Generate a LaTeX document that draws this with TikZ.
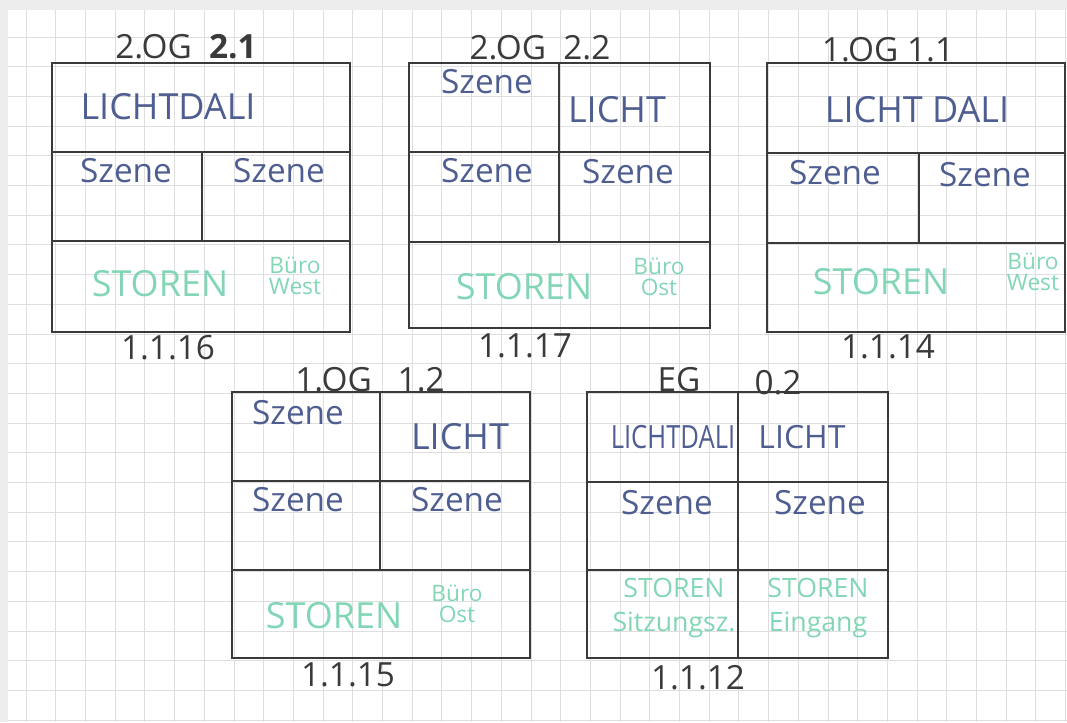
\documentclass[tikz,border=0pt]{standalone}
\usepackage{fontspec}
\usepackage{graphicx}
\setmainfont{Open Sans}
\definecolor{penblue}{HTML}{4F5E90}
\definecolor{pengreen}{HTML}{82D6B6}
\definecolor{pencil}{HTML}{3A3A3A}
\definecolor{gridgray}{HTML}{DEDEDE}
\definecolor{rimgray}{HTML}{EDEDED}
\tikzset{
  frame/.style={pencil, line width=1.4pt},
  gridline/.style={gridgray, line width=0.6pt},
  bluetext/.style={text=penblue, inner sep=0pt, font=\fontsize{25}{27}\selectfont},
  bigtext/.style={bluetext, font=\fontsize{27}{29}\selectfont},
  greentext/.style={text=pengreen, inner sep=0pt, font=\fontsize{27}{29}\selectfont},
  roomtext/.style={text=pengreen, inner sep=0pt, align=center, font=\fontsize{17}{16}\selectfont},
  egtext/.style={text=pengreen, inner sep=0pt, align=center, font=\fontsize{20}{25}\selectfont},
  tag/.style={text=pencil, inner sep=0pt, font=\fontsize{25}{27}\selectfont}
}

\begin{document}
\begin{tikzpicture}[x=0.75pt,y=-0.75pt]
\useasboundingbox (0,0) rectangle (1067,722);

% Grid paper
\foreach \gx in {0,...,35}
  \draw[gridline] ({26+29.7*\gx},0) -- ({26+29.7*\gx},722);
\foreach \gy in {0,...,24}
  \draw[gridline] (0,{7.2+29.7*\gy}) -- (1067,{7.2+29.7*\gy});
\fill[rimgray] (0,0) rectangle (1067,10);
\fill[rimgray] (0,0) rectangle (8,722);

% Panel 1: 2.OG 2.1
\begin{scope}[shift={(52,63)}]
  \draw[frame] (0,0) rectangle (298,269);
  \draw[frame] (0,89) -- (298,89);
  \draw[frame] (0,178) -- (298,178);
  \draw[frame] (150,89) -- (150,178);
  % Label
  \node[tag] (p1title) at (134,-16) {2.OG~~\textbf{2.1}};
  \node[bigtext] (p1licht) at (116,44) {LICHTDALI};
  \node[bluetext] (p1szl) at (74,108) {Szene};
  \node[bluetext] (p1szr) at (227,108) {Szene};
  \node[greentext] (p1storen) at (108,221) {STOREN};
  \node[roomtext] (p1room) at (243,213) {Büro\\West};
  \node[tag] (p1code) at (116,285) {1.1.16};
\end{scope}

% Panel 2: 2.OG 2.2
\begin{scope}[shift={(409,63)}]
  \draw[frame] (0,0) rectangle (301,265);
  \draw[frame] (0,89) -- (301,89);
  \draw[frame] (0,179) -- (301,179);
  \draw[frame] (150,0) -- (150,179);
  % Label
  \node[tag] (p2title) at (131,-15) {2.OG~~2.2};
  \node[bluetext] (p2sztop) at (78,19) {Szene};
  \node[bigtext] (p2licht) at (208,47) {LICHT};
  \node[bluetext] (p2szl) at (78,108) {Szene};
  \node[bluetext] (p2szr) at (219,109) {Szene};
  \node[greentext] (p2storen) at (115,224) {STOREN};
  \node[roomtext] (p2room) at (250,214) {Büro\\Ost};
  \node[tag] (p2code) at (116,283) {1.1.17};
\end{scope}

% Panel 3: 1.OG 1.1
\begin{scope}[shift={(767,63)}]
  \draw[frame] (0,0) rectangle (298,269);
  \draw[frame] (0,90) -- (298,90);
  \draw[frame] (0,180) -- (298,180);
  \draw[frame] (152,90) -- (152,180);
  % Label
  \node[tag] (p3title) at (121,-13) {1.OG~1.1};
  \node[bigtext] (p3licht) at (150,47) {LICHT DALI};
  \node[bluetext] (p3szl) at (68,110) {Szene};
  \node[bluetext] (p3szr) at (218,112) {Szene};
  \node[greentext] (p3storen) at (114,219) {STOREN};
  \node[roomtext] (p3room) at (266,209) {Büro\\West};
  \node[tag] (p3code) at (121,284) {1.1.14};
\end{scope}

% Panel 4: 1.OG 1.2
\begin{scope}[shift={(232,392)}]
  \draw[frame] (0,0) rectangle (298,266);
  \draw[frame] (0,89) -- (298,89);
  \draw[frame] (0,178) -- (298,178);
  \draw[frame] (148,0) -- (148,178);
  % Label
  \node[tag] (p4title) at (138,-12) {1.OG~~~1.2};
  \node[bluetext] (p4sztop) at (66,21) {Szene};
  \node[bigtext] (p4licht) at (228,45) {LICHT};
  \node[bluetext] (p4szl) at (66,108) {Szene};
  \node[bluetext] (p4szr) at (225,108) {Szene};
  \node[greentext] (p4storen) at (102,224) {STOREN};
  \node[roomtext] (p4room) at (225,212) {Büro\\Ost};
  \node[tag] (p4code) at (116,283) {1.1.15};
\end{scope}

% Panel 5: EG 0.2
\begin{scope}[shift={(587,392)}]
  \draw[frame] (0,0) rectangle (301,266);
  \draw[frame] (0,90) -- (301,90);
  \draw[frame] (0,178) -- (301,178);
  \draw[frame] (151,0) -- (151,266);
  % Label
  \node[tag] (p5floor) at (92,-12) {EG};
  \node[tag] (p5title) at (191,-9) {0.2};
  \node[bigtext, font=\fontsize{24}{26}\selectfont] (p5dali) at (86,45) {\scalebox{0.8}[1]{LICHTDALI}};
  \node[bigtext, font=\fontsize{24}{26}\selectfont] (p5licht) at (215,45) {LICHT};
  \node[bluetext] (p5szl) at (80,111) {Szene};
  \node[bluetext] (p5szr) at (233,111) {Szene};
  \node[egtext] (p5storl) at (87,216) {STOREN\\Sitzungsz.};
  \node[egtext] (p5storr) at (231,216) {STOREN\\Eingang};
  \node[tag] (p5code) at (111,286) {1.1.12};
\end{scope}

\end{tikzpicture}
\end{document}
